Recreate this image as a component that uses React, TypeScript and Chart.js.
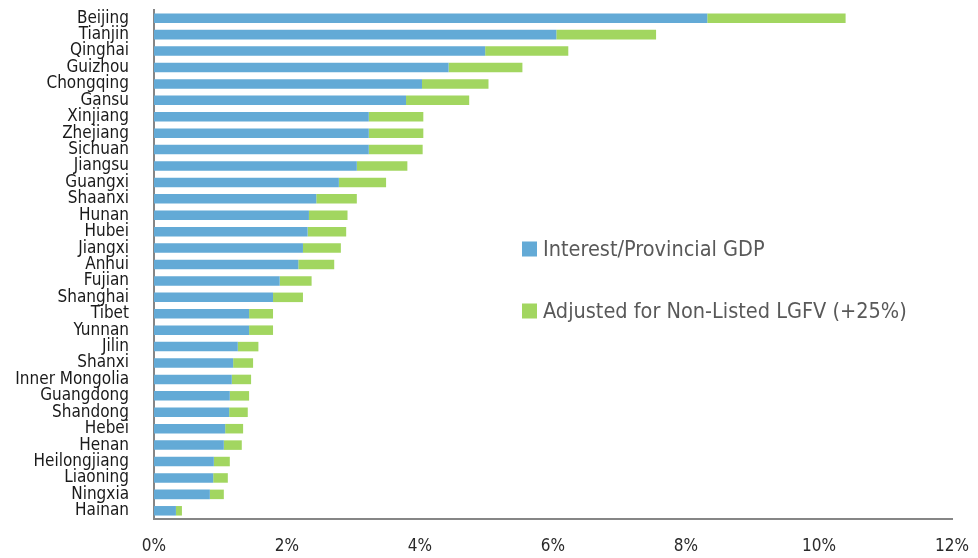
import React, { useEffect, useRef } from "react";
import { Chart, registerables } from "chart.js";

Chart.register(...registerables);

const provinces = [
  "Beijing", "Tianjin", "Qinghai", "Guizhou", "Chongqing", "Gansu", "Xinjiang", "Zhejiang",
  "Sichuan", "Jiangsu", "Guangxi", "Shaanxi", "Hunan", "Hubei", "Jiangxi", "Anhui",
  "Fujian", "Shanghai", "Tibet", "Yunnan", "Jilin", "Shanxi", "Inner Mongolia", "Guangdong",
  "Shandong", "Hebei", "Henan", "Heilongjiang", "Liaoning", "Ningxia", "Hainan",
];

const interestToGdp = [
  8.32, 6.05, 4.98, 4.43, 4.03, 3.79, 3.23, 3.23,
  3.23, 3.05, 2.78, 2.44, 2.33, 2.31, 2.24, 2.17,
  1.89, 1.79, 1.43, 1.43, 1.26, 1.19, 1.17, 1.14,
  1.13, 1.07, 1.05, 0.9, 0.89, 0.84, 0.33,
];

const nonListedAdjustment = [
  2.08, 1.5, 1.25, 1.11, 1.0, 0.95, 0.82, 0.82,
  0.81, 0.76, 0.71, 0.61, 0.58, 0.58, 0.57, 0.54,
  0.48, 0.45, 0.36, 0.36, 0.31, 0.3, 0.29, 0.29,
  0.28, 0.27, 0.27, 0.24, 0.22, 0.21, 0.09,
];

const seriesLabels = ["Interest/Provincial GDP", "Adjusted for Non-Listed LGFV (+25%)"];
const xTickMax = 12;
const xTickStep = 2;

const FONT = '"DejaVu Sans Condensed", "Liberation Sans Narrow", "DejaVu Sans", sans-serif';

const legendPlugin = {
  id: "insideLegend",
  afterDraw(chart: any) {
    const ctx = chart.ctx;
    const ys = [249, 311];
    ctx.save();
    chart.data.datasets.forEach((ds: any, i: number) => {
      const cy = ys[i];
      ctx.fillStyle = ds.backgroundColor;
      ctx.fillRect(522, cy - 7.5, 15, 15);
      ctx.fillStyle = "#595959";
      ctx.font = `21.5px ${FONT}`;
      ctx.textBaseline = "middle";
      ctx.textAlign = "left";
      ctx.fillText(ds.label, 543, cy + 1);
    });
    ctx.restore();
  },
};

export default function App() {
  const ref = useRef<HTMLCanvasElement | null>(null);

  useEffect(() => {
    if (!ref.current) return;
    const chart = new Chart(ref.current, {
      type: "bar",
      data: {
        labels: provinces,
        datasets: [
          {
            label: seriesLabels[0],
            data: interestToGdp,
            backgroundColor: "#63aad6",
            borderWidth: 0,
            barPercentage: 0.58,
            categoryPercentage: 1,
          },
          {
            label: seriesLabels[1],
            data: nonListedAdjustment,
            backgroundColor: "#a2d660",
            borderWidth: 0,
            barPercentage: 0.58,
            categoryPercentage: 1,
          },
        ],
      },
      options: {
        indexAxis: "y",
        responsive: false,
        animation: false,
        layout: { padding: { top: 10, right: 26, bottom: 0, left: 0 } },
        plugins: {
          legend: { display: false },
          tooltip: { enabled: false },
        },
        scales: {
          x: {
            stacked: true,
            min: 0,
            max: xTickMax,
            grid: { display: false, drawTicks: false },
            border: { display: true, color: "#868686", width: 2 },
            ticks: {
              stepSize: xTickStep,
              padding: 17,
              color: "#2a2a2a",
              font: { family: FONT, size: 17 },
              callback: (v: any) => `${v}%`,
              maxRotation: 0,
            },
            afterFit: (scale: any) => {
              scale.height = 39;
              scale.paddingLeft = 0;
              scale.paddingRight = 0;
              scale.paddingTop = 0;
              scale.paddingBottom = 0;
            },
          },
          y: {
            stacked: true,
            grid: { display: false, drawTicks: false },
            border: { display: true, color: "#868686", width: 2 },
            ticks: {
              padding: 25,
              color: "#1a1a1a",
              font: { family: FONT, size: 17 },
              autoSkip: false,
            },
            afterFit: (scale: any) => {
              scale.width = 154;
              scale.paddingLeft = 0;
              scale.paddingRight = 0;
              scale.paddingTop = 0;
              scale.paddingBottom = 0;
            },
          },
        },
      },
      plugins: [legendPlugin],
    });
    return () => chart.destroy();
  }, []);

  return (
    <div style={{ position: "absolute", left: 0, top: 0, width: 978, height: 558, background: "#fff" }}>
      <canvas ref={ref} width={978} height={558} style={{ display: "block" }} />
    </div>
  );
}
